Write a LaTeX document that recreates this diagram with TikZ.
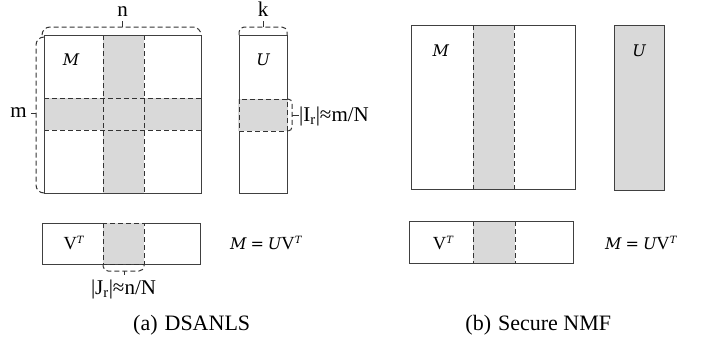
\documentclass[tikz,border=0pt]{standalone}
\usepackage{fontspec}
\newfontfamily\lib{Liberation Serif}
\newfontfamily\dv{DejaVu Serif}
\begin{document}
\begin{tikzpicture}[x=1pt,y=-1pt,
  mat/.style={draw=black!75, line width=1pt},
  gfill/.style={fill=black!15},
  dsh/.style={draw=black!80, line width=1pt, dash pattern=on 5pt off 3pt},
  tickline/.style={draw=black!80, line width=1pt},
  lbl/.style={inner sep=0pt, font=\lib\fontsize{21}{23}\selectfont},
  sym/.style={inner sep=0pt, anchor=base, font=\dv\itshape\fontsize{16}{18}\selectfont},
  eqn/.style={inner sep=0pt, anchor=base west},
  captxt/.style={inner sep=0pt, anchor=base, font=\lib\fontsize{22}{24}\selectfont}]
\newcommand{\VT}{{\lib\fontsize{18.5}{20}\selectfont V}\raisebox{0.6em}{\dv\itshape\fontsize{10}{11}\selectfont T}}
\newcommand{\Meq}{{\dv\itshape\fontsize{16}{18}\selectfont M\hspace{4pt}=\hspace{4pt}U}{\lib\fontsize{18.5}{20}\selectfont V}\raisebox{0.6em}{\dv\itshape\fontsize{10}{11}\selectfont T}}
\useasboundingbox (0,0) rectangle (701,341);
% ---------- (a) left panel ----------
% M
\fill[gfill] (103,35) rectangle (144,193);
\fill[gfill] (44,98) rectangle (201,130);
\draw[dsh] (103,35) -- (103,193);
\draw[dsh] (144,35) -- (144,193);
\draw[dsh] (44,98) -- (201,98);
\draw[dsh] (44,130) -- (201,130);
\draw[mat] (44,35) rectangle (201,193);
\node[sym] (Ma) at (71,65) {M};
% U
\draw[mat] (239,35) rectangle (287,193);
\fill[gfill] (238.4,99) rectangle (287.6,131);
\draw[dsh] (239,99) rectangle (287,131);
\node[sym] (Ua) at (263,65) {U};
% braces
\draw[dsh, rounded corners=8] (42,35) -- (42,27) -- (201,27) -- (201,35);
\draw[dsh, rounded corners=8] (44,37) -- (36,37) -- (36,193) -- (44,193);
\coordinate (nb) at (122.7,27);
\coordinate (mb) at (36,113);
\node[lbl, anchor=base] (n) at (122.7,16.7) {n};
\node[lbl, anchor=base east] (m) at (27,117.3) {m};
\draw[tickline] (nb) -- ++(0,-6);
\draw[tickline] (mb) -- ++(-5,0);
\draw[dsh, rounded corners=5] (239,35) -- (239,27) -- (287,27) -- (287,35);
\coordinate (kb) at (263,27);
\node[lbl, anchor=base] (k) at (263,16.7) {k};
\draw[tickline] (kb) -- ++(0,-6);
\draw[dsh, rounded corners=4] (287,99) -- (292,99) -- (292,131) -- (287,131);
\coordinate (ib) at (292,115);
\node[lbl, anchor=base west] (Ir) at (299,121.7) {|I\textsubscript{r}|≈m/N};
\draw[tickline] (ib) -- (Ir.west |- ib);
% V^T
\draw[mat] (42,223) rectangle (200,264);
\fill[gfill] (103,223) rectangle (144,264);
\draw[dsh] (103,223) rectangle (144,264);
\node[eqn] (Va) at (63.3,249.5) {\VT};
\draw[dsh, rounded corners=5] (103,264) -- (103,271) -- (144,271) -- (144,264);
\coordinate (jb) at (124,271);
\node[lbl, anchor=base] (Jr) at (123.5,294) {|J\textsubscript{r}|≈n/N};
\draw[tickline] (jb) -- ++(0,4);
\node[eqn] (eqa) at (230,249.5) {\Meq};
\node[captxt] (capa) at (191.7,330) {(a)\hspace{7pt}DSANLS};
% ---------- (b) right panel ----------
\fill[gfill] (473,25) rectangle (514,189);
\draw[dsh] (473,25) -- (473,189);
\draw[dsh] (514,25) -- (514,189);
\draw[mat] (411,25) rectangle (575,189);
\node[sym] (Mb) at (440.7,56) {M};
\draw[mat, gfill] (614,25) rectangle (664,190);
\node[sym] (Ub) at (639,56) {U};
\fill[gfill] (473,221) rectangle (515,263);
\draw[dsh] (473,221) -- (473,263);
\draw[dsh] (515,221) -- (515,263);
\draw[mat] (409,221) rectangle (573,263);
\node[eqn] (Vb) at (432.7,249.5) {\VT};
\node[eqn] (eqb) at (605,249.5) {\Meq};
\node[captxt] (capb) at (538.3,330) {(b)\hspace{7pt}Secure NMF};
\end{tikzpicture}
\end{document}
